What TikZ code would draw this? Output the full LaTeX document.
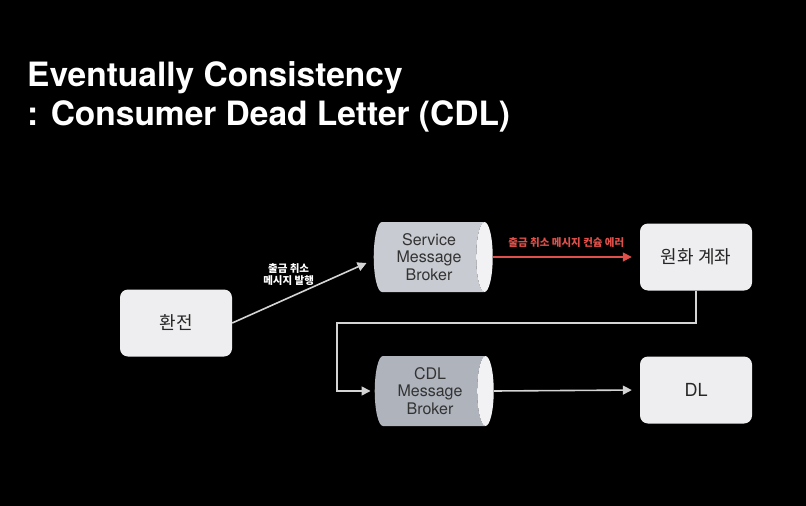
\documentclass[tikz,border=0pt]{standalone}
\usepackage{fontspec}
\setmainfont{TeX Gyre Heros}
\newfontfamily\kr{Noto Sans CJK KR}
\usetikzlibrary{arrows.meta}
\usetikzlibrary{shapes.geometric}

\definecolor{boxfill}{HTML}{EEEEF0}
\definecolor{capfill}{HTML}{F2F2F4}
\definecolor{svcfill}{HTML}{C8CBD1}
\definecolor{cdlfill}{HTML}{AEB3BC}
\definecolor{flowgray}{HTML}{D4D4D4}
\definecolor{errred}{HTML}{E0504A}

\begin{document}
\begin{tikzpicture}[x=1pt,y=-1pt,
              >={Triangle[length=9pt,width=9pt]},
              box/.style={rounded corners=8pt,fill=boxfill,
              minimum width=112pt,minimum height=67pt,
              font=\kr\fontsize{18}{21}\selectfont,text=black!85},
              broker/.style={cylinder,shape border rotate=0,aspect=0.35,
              cylinder uses custom fill,cylinder end fill=capfill,
              minimum height=119pt,minimum width=70pt,align=center,
              inner sep=0pt,text=black!80,
              font=\fontsize{16}{17.5}\selectfont},
              flow/.style={draw=flowgray,line width=1.6pt},
              tag/.style={font=\kr\bfseries\fontsize{10.5}{12.5}\selectfont,align=center}]
    \fill[black] (0,0) rectangle (806,506);

    \node[anchor=base west,text=white,inner sep=0pt,
          font=\bfseries\fontsize{33.5}{40}\selectfont] (title) at (27,86)
        {Eventually Consistency};
    \node[anchor=base west,text=white,inner sep=0pt,
          font=\bfseries\fontsize{33.5}{40}\selectfont] (subtitle) at (27,125)
        {: Consumer Dead Letter (CDL)};

    \node[box] (hwan) at (176,323) {환전};
    \node[box] (won) at (696,257) {원화 계좌};
    \node[box,font=\fontsize{18}{21}\selectfont] (dl) at (696,390) {DL};

    \node[broker,cylinder body fill=svcfill] (svc) at (429,257)
        {Service\\Message\\Broker};
    \node[broker,cylinder body fill=cdlfill] (cdl) at (430,391)
        {CDL\\Message\\Broker};

    \coordinate (bend) at (337,323);

    \draw[flow,->] (hwan.east) -- ([xshift=-7pt,yshift=-6pt]svc.west)
        node[tag,text=white,pos=0.42,above=8pt] {출금 취소\\메시지 발행};
    \draw[->,draw=errred,fill=errred,line width=1.6pt,shorten >=8pt] (svc.east) -- (won.west)
        node[tag,text=errred,midway,above=5pt] {출금 취소 메시지 컨슘 에러};
    \draw[flow,->,shorten >=4pt] (won.south) |- (bend) |- (cdl.west);
    \draw[flow,->,shorten >=8pt] (cdl.east) -- (dl.west);
\end{tikzpicture}
\end{document}
